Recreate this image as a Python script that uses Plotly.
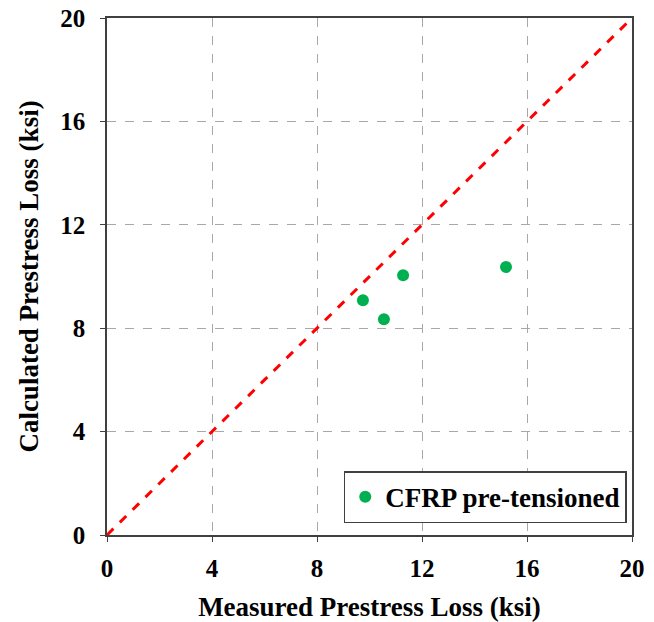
import plotly.graph_objects as go

measured = [9.75, 10.55, 11.28, 15.2]
calculated = [9.08, 8.35, 10.05, 10.37]
line_x = [0, 20]
line_y = [0, 20]
ticks = [0, 4, 8, 12, 16, 20]

fig = go.Figure()
fig.add_trace(go.Scatter(x=line_x, y=line_y, mode="lines", showlegend=False,
                         line=dict(color="#ff0000", width=3, dash="dash"), hoverinfo="skip"))
fig.add_trace(go.Scatter(x=measured, y=calculated, mode="markers", name="CFRP pre-tensioned",
                         marker=dict(color="#00b050", size=12)))

axis_common = dict(range=[0, 20], tickvals=ticks, showgrid=True, gridcolor="#a8a8a8",
                   griddash="dash", gridwidth=1, showline=True, linecolor="#404040", linewidth=1.5,
                   mirror=True, ticks="outside", ticklen=5, tickcolor="#404040", zeroline=False,
                   automargin=False,
                   tickfont=dict(family="Liberation Serif", size=25, color="black", weight="bold"))

fig.update_layout(
    width=654, height=622,
    margin=dict(l=107, r=22, t=18, b=87),
    paper_bgcolor="white", plot_bgcolor="white",
    font=dict(family="Liberation Serif", color="black"),
    xaxis=dict(**axis_common, ticklabelstandoff=5,
               title=dict(text="Measured Prestress Loss (ksi)",
                          font=dict(size=27, weight="bold"), standoff=17)),
    yaxis=dict(**axis_common, ticklabelstandoff=10,
               title=dict(text="Calculated Prestress Loss (ksi)",
                          font=dict(size=27, weight="bold"), standoff=14)),
    legend=dict(x=0.99, y=0.023, xanchor="right", yanchor="bottom", bgcolor="white",
                bordercolor="#404040", borderwidth=1.5,
                font=dict(family="Liberation Serif", size=27, color="black", weight="bold"),
                itemsizing="constant"),
)
fig.write_html("out.html")
